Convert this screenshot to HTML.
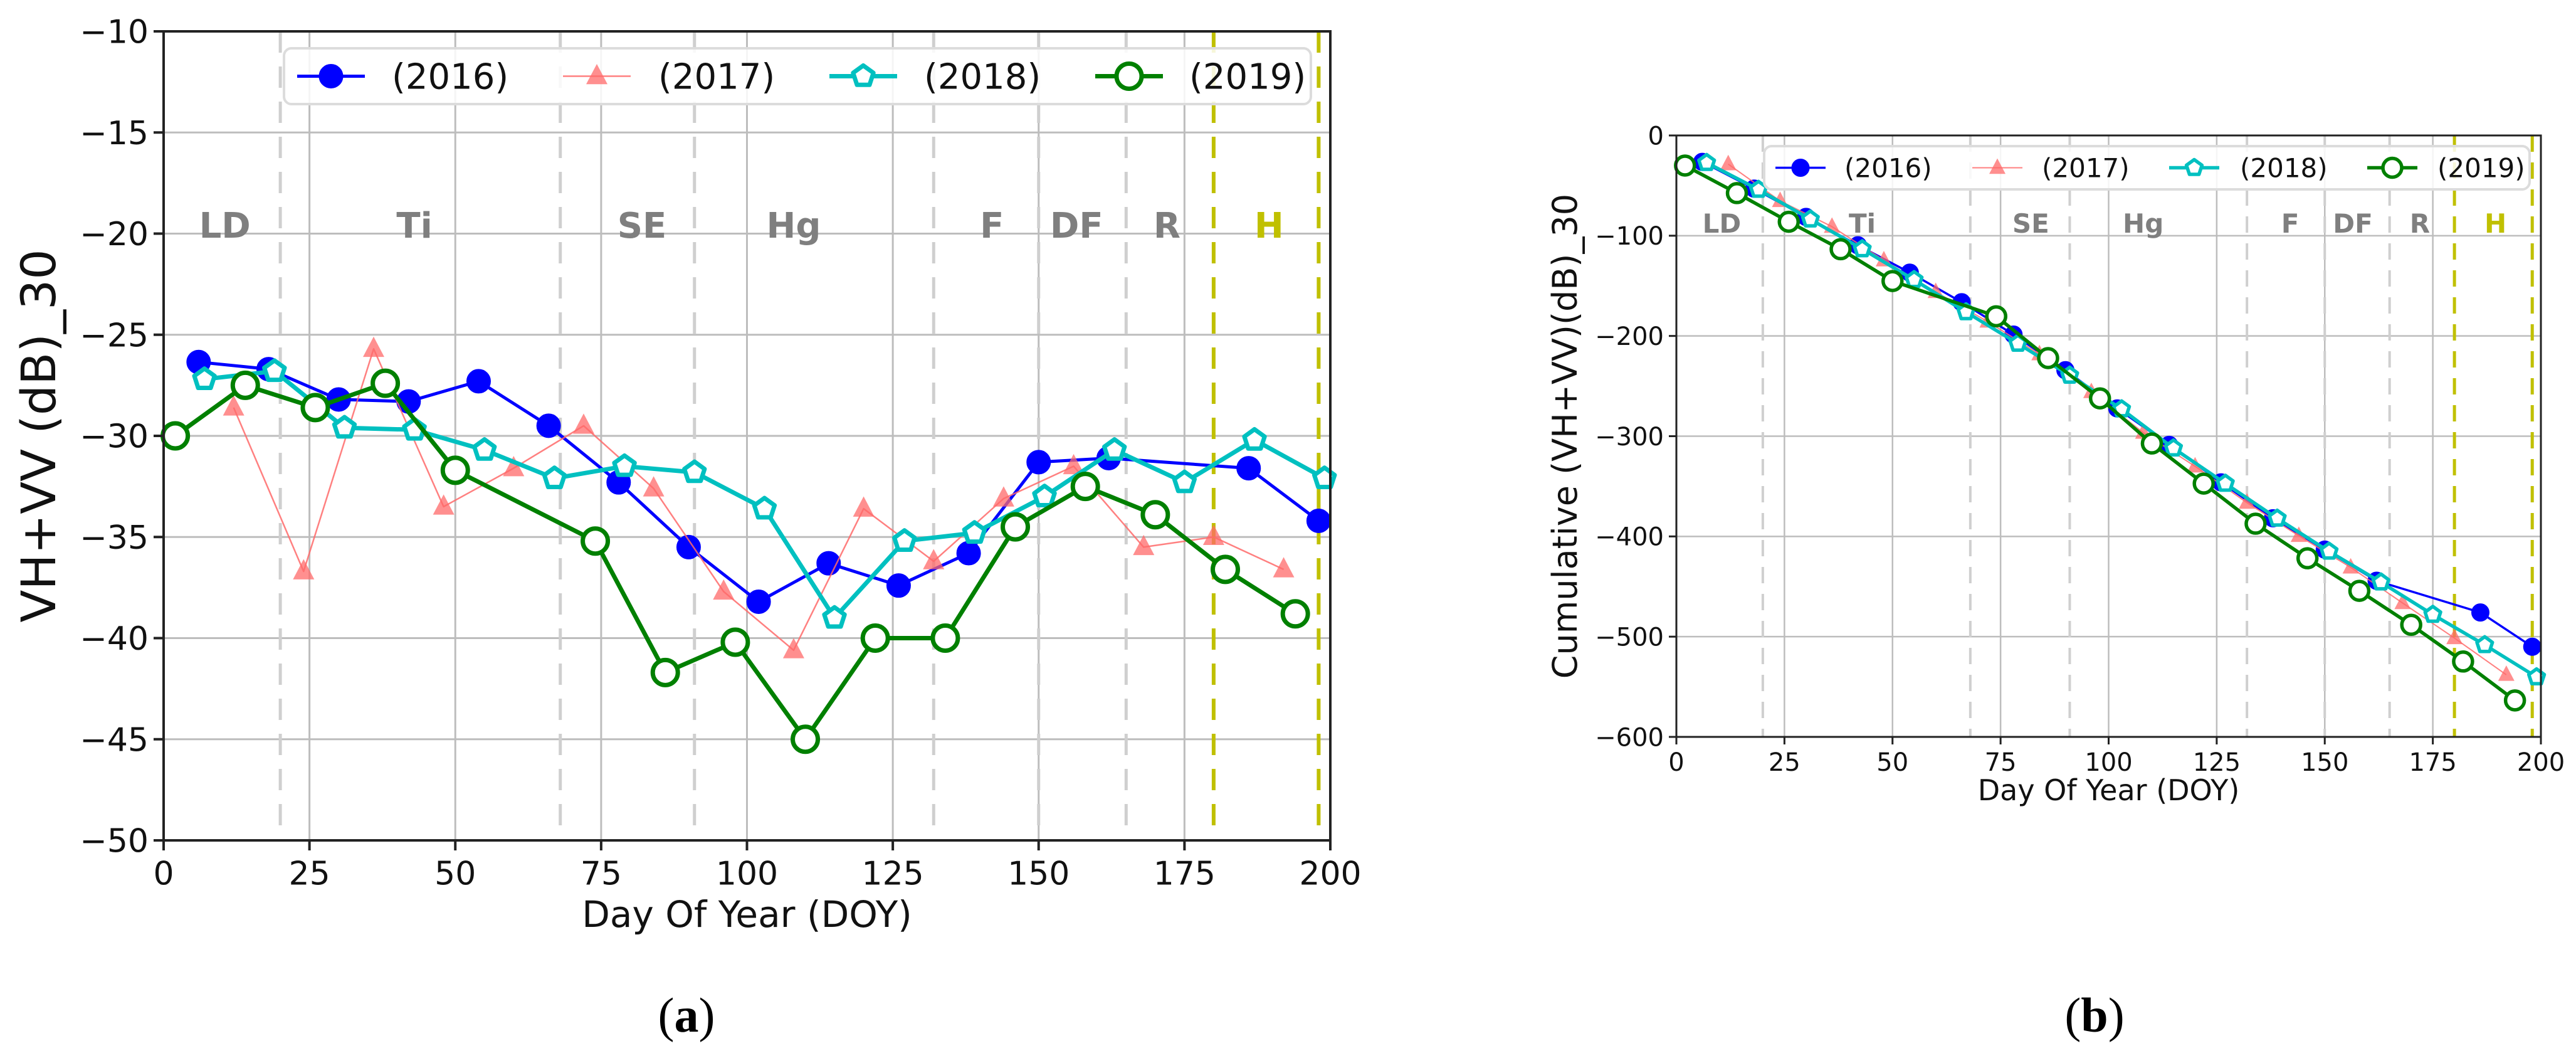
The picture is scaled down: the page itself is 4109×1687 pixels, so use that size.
<!DOCTYPE html>
<html><head><meta charset="utf-8"><style>
html,body{margin:0;padding:0;background:#fff;}
svg{display:block;font-family:"DejaVu Sans","Liberation Sans",sans-serif;}
</style></head><body>
<svg id="fig" width="4109" height="1687" viewBox="0 0 4109 1687" xmlns="http://www.w3.org/2000/svg">
<rect width="4109" height="1687" fill="#fff"/>
<g id="ca"></g>
<g id="cb"></g>
<text x="1095" y="1645" font-family="Liberation Serif, serif" font-size="78" text-anchor="middle">(<tspan font-weight="bold">a</tspan>)</text>
<text x="3341" y="1645" font-family="Liberation Serif, serif" font-size="78" text-anchor="middle">(<tspan font-weight="bold">b</tspan>)</text>
</svg>
<script>
const years = ["(2016)","(2017)","(2018)","(2019)"];
const doy2016 = [6,18,30,42,54,66,78,90,102,114,126,138,150,162,186,198];
const val2016 = [-26.35,-26.7,-28.2,-28.3,-27.3,-29.5,-32.3,-35.5,-38.2,-36.3,-37.4,-35.8,-31.3,-31.1,-31.6,-34.2];
const doy2017 = [12,24,36,48,60,72,84,96,108,120,132,144,156,168,180,192];
const val2017 = [-28.6,-36.7,-25.7,-33.5,-31.6,-29.5,-32.6,-37.7,-40.6,-33.6,-36.2,-33.1,-31.5,-35.5,-35.0,-36.6];
const doy2018 = [7,19,31,43,55,67,79,91,103,115,127,139,151,163,175,187,199];
const val2018 = [-27.2,-26.8,-29.6,-29.7,-30.7,-32.1,-31.5,-31.8,-33.6,-39.0,-35.2,-34.8,-33.0,-30.7,-32.3,-30.2,-32.1];
const doy2019 = [2,14,26,38,50,74,86,98,110,122,134,146,158,170,182,194];
const val2019 = [-30.0,-27.5,-28.6,-27.4,-31.7,-35.2,-41.7,-40.2,-45.0,-40.0,-40.0,-34.5,-32.5,-33.9,-36.6,-38.8];
const xTicks = [0,25,50,75,100,125,150,175,200];
const yTicksA = [-10,-15,-20,-25,-30,-35,-40,-45,-50];
const yTicksB = [0,-100,-200,-300,-400,-500,-600];
const stageNames = ["LD","Ti","SE","Hg","F","DF","R","H"];
const stagePos = [10.5,43,82,108,142,156.5,172,189.5];
const stageLines = [20,68,91,132,150,165];
const harvestLines = [180,198];

const NS="http://www.w3.org/2000/svg";
function mk(parent,tag,attrs,txt){const e=document.createElementNS(NS,tag);for(const k in attrs)e.setAttribute(k,attrs[k]);if(txt!==undefined)e.textContent=txt;parent.appendChild(e);return e;}
function cumsum(a){let s=0;return a.map(v=>s+=v);}

function marker(g,kind,cx,cy,r,sw){
  let e;
  if(kind==="circle-filled"){e=mk(g,"circle",{cx:cx,cy:cy,r:r,fill:"#0000ff",stroke:"#0000ff","stroke-width":1});}
  else if(kind==="tri"){e=mk(g,"polygon",{points:`${cx},${cy-r*1.15} ${cx-r},${cy+r*0.75} ${cx+r},${cy+r*0.75}`,fill:"#ff6a6a","fill-opacity":0.75,stroke:"none"});}
  else if(kind==="pent"){let p=[];for(let i=0;i<5;i++){const a=-Math.PI/2+i*2*Math.PI/5;p.push((cx+r*Math.cos(a)).toFixed(1)+","+(cy+r*Math.sin(a)).toFixed(1));}
    e=mk(g,"polygon",{points:p.join(" "),fill:"#fff",stroke:"#00c0c0","stroke-width":sw,"stroke-linejoin":"round"});}
  else {e=mk(g,"circle",{cx:cx,cy:cy,r:r,fill:"#fff",stroke:"#008000","stroke-width":sw});}
  return e;
}

function drawChart(g,cfg){
  const X=v=>cfg.x0+(v-0)/200*(cfg.x1-cfg.x0);
  const Y=v=>cfg.y0+(v-cfg.ymax)/(cfg.ymin-cfg.ymax)*(cfg.y1-cfg.y0);
  const grid=mk(g,"g",{});
  
  
  xTicks.forEach(t=>mk(grid,"line",{x1:X(t),x2:X(t),y1:cfg.y0,y2:cfg.y1,stroke:"#bdbdbd","stroke-width":cfg.gw}));
  cfg.yt.forEach(t=>mk(grid,"line",{x1:cfg.x0,x2:cfg.x1,y1:Y(t),y2:Y(t),stroke:"#bdbdbd","stroke-width":cfg.gw}));
  stageLines.forEach(t=>{const l=mk(g,"line",{x1:X(t),x2:X(t),y1:cfg.y0,y2:cfg.y1,stroke:"#cfcfcf","stroke-width":cfg.dw,"stroke-dasharray":cfg.dash});
    
    });
  harvestLines.forEach(t=>{const l=mk(g,"line",{x1:X(t),x2:X(t),y1:cfg.y0,y2:cfg.y1,stroke:"#c0c000","stroke-width":cfg.dw+1,"stroke-dasharray":cfg.dash});
    
    });
  stageNames.forEach((s,i)=>{const t=mk(g,"text",{x:X(stagePos[i]),y:Y(cfg.stageY),"font-size":cfg.sf,"font-weight":"bold",fill:s==="H"?"#c0c000":"#7f7f7f","text-anchor":"middle"},s);
    
    });
  // series
  const series=[
    {d:doy2016,v:cfg.tr(val2016),c:"#0000ff",w:cfg.lw[0],m:"circle-filled",r:cfg.mr[0],n:"2016"},
    {d:doy2017,v:cfg.tr(val2017),c:"#ff6a6a",w:cfg.lw[1],m:"tri",r:cfg.mr[1],n:"2017"},
    {d:doy2018,v:cfg.tr(val2018),c:"#00c0c0",w:cfg.lw[2],m:"pent",r:cfg.mr[2],n:"2018"},
    {d:doy2019,v:cfg.tr(val2019),c:"#008000",w:cfg.lw[3],m:"circ",r:cfg.mr[3],n:"2019"}];
  const cl="clip"+cfg.id;
  const cp=mk(g,"clipPath",{id:cl});mk(cp,"rect",{x:cfg.x0-40,y:cfg.y0-40,width:cfg.x1-cfg.x0+60,height:cfg.y1-cfg.y0+80});
  series.forEach(s=>{
    const sg=mk(g,"g",{"clip-path":`url(#${cl})`});
    
    
    const pts=s.d.map((d,i)=>X(d).toFixed(1)+","+Y(s.v[i]).toFixed(1)).join(" ");
    mk(sg,"polyline",{points:pts,fill:"none",stroke:s.c,"stroke-width":s.w,"stroke-linejoin":"round",opacity:s.m==="tri"?0.85:1});
    s.d.forEach((d,i)=>{const e=marker(sg,s.m,X(d),Y(s.v[i]),s.r,s.w);
      
      });
  });
  // frame
  mk(g,"rect",{x:cfg.x0,y:cfg.y0,width:cfg.x1-cfg.x0,height:cfg.y1-cfg.y0,fill:"none",stroke:"#222","stroke-width":cfg.fw});
  // ticks
  xTicks.forEach(t=>{mk(g,"line",{x1:X(t),x2:X(t),y1:cfg.y1,y2:cfg.y1+cfg.tl,stroke:"#222","stroke-width":cfg.fw});
    const e=mk(g,"text",{x:X(t),y:cfg.y1+cfg.tl+cfg.tf*1.05,"font-size":cfg.tf,"text-anchor":"middle",fill:"#111"},String(t));
    
    });
  cfg.yt.forEach(t=>{mk(g,"line",{x1:cfg.x0-cfg.tl,x2:cfg.x0,y1:Y(t),y2:Y(t),stroke:"#222","stroke-width":cfg.fw});
    const e=mk(g,"text",{x:cfg.x0-cfg.tl-8,y:Y(t)+cfg.tf*0.36,"font-size":cfg.tf,"text-anchor":"end",fill:"#111"},String(t).replace("-","\u2212"));
    
    });
  const xt=mk(g,"text",{x:(cfg.x0+cfg.x1)/2,y:cfg.xty,"font-size":cfg.xf,"text-anchor":"middle",fill:"#111"},"Day Of Year (DOY)");
  
  
  const yt=mk(g,"text",{x:cfg.ytx,y:(cfg.y0+cfg.y1)/2,"font-size":cfg.yf,"text-anchor":"middle",fill:"#111",transform:`rotate(-90 ${cfg.ytx} ${(cfg.y0+cfg.y1)/2})`},cfg.ytitle);
  
  
  // legend
  const L=cfg.leg;
  const lg=mk(g,"g",{});
  
  
  mk(lg,"rect",{x:L.x,y:L.y,width:L.w,height:L.h,rx:12,fill:"#fff","fill-opacity":0.85,stroke:"#dcdcdc","stroke-width":4});
  series.forEach((s,i)=>{
    const eg=mk(lg,"g",{});
    
    
    const hx=L.hx[i],cy=L.y+L.h/2;
    mk(eg,"line",{x1:hx,x2:hx+L.hw,y1:cy,y2:cy,stroke:s.c,"stroke-width":s.w,opacity:s.m==="tri"?0.85:1});
    marker(eg,s.m,hx+L.hw/2,cy,s.r,s.w);
    mk(eg,"text",{x:L.tx[i],y:cy+L.f*0.36,"font-size":L.f,fill:"#111"},years[i]);
  });
}

drawChart(document.getElementById("ca"),{id:"a",x0:261,x1:2122,y0:50,y1:1340,ymax:-10,ymin:-50,yt:yTicksA,tr:a=>a,
  gw:3,dw:5,dash:"34 22",fw:4,tl:16,tf:52,xf:58,yf:76,sf:56,stageY:-20.2,lw:[5,2.5,7,7],mr:[19,17,17,20],
  xty:1478,ytx:88,ytitle:"VH+VV (dB)_30",
  leg:{x:453,y:77,w:1638,h:89,hx:[474,898,1323,1747],hw:108,tx:[625,1050,1474,1897],f:56}});

drawChart(document.getElementById("cb"),{id:"b",x0:2674,x1:4053,y0:216,y1:1175,ymax:0,ymin:-600,yt:yTicksB,tr:cumsum,
  gw:2.5,dw:4,dash:"26 17",fw:3,tl:12,tf:40,xf:46,yf:54,sf:42,stageY:-97,lw:[3.5,2,5.5,5.5],mr:[14,13,13,15],
  xty:1276,ytx:2515,ytitle:"Cumulative (VH+VV)(dB)_30",
  leg:{x:2814,y:233,w:1221,h:69,hx:[2832,3146,3460,3776],hw:80,tx:[2942,3257,3573,3888],f:42}});
</script>
</body></html>
